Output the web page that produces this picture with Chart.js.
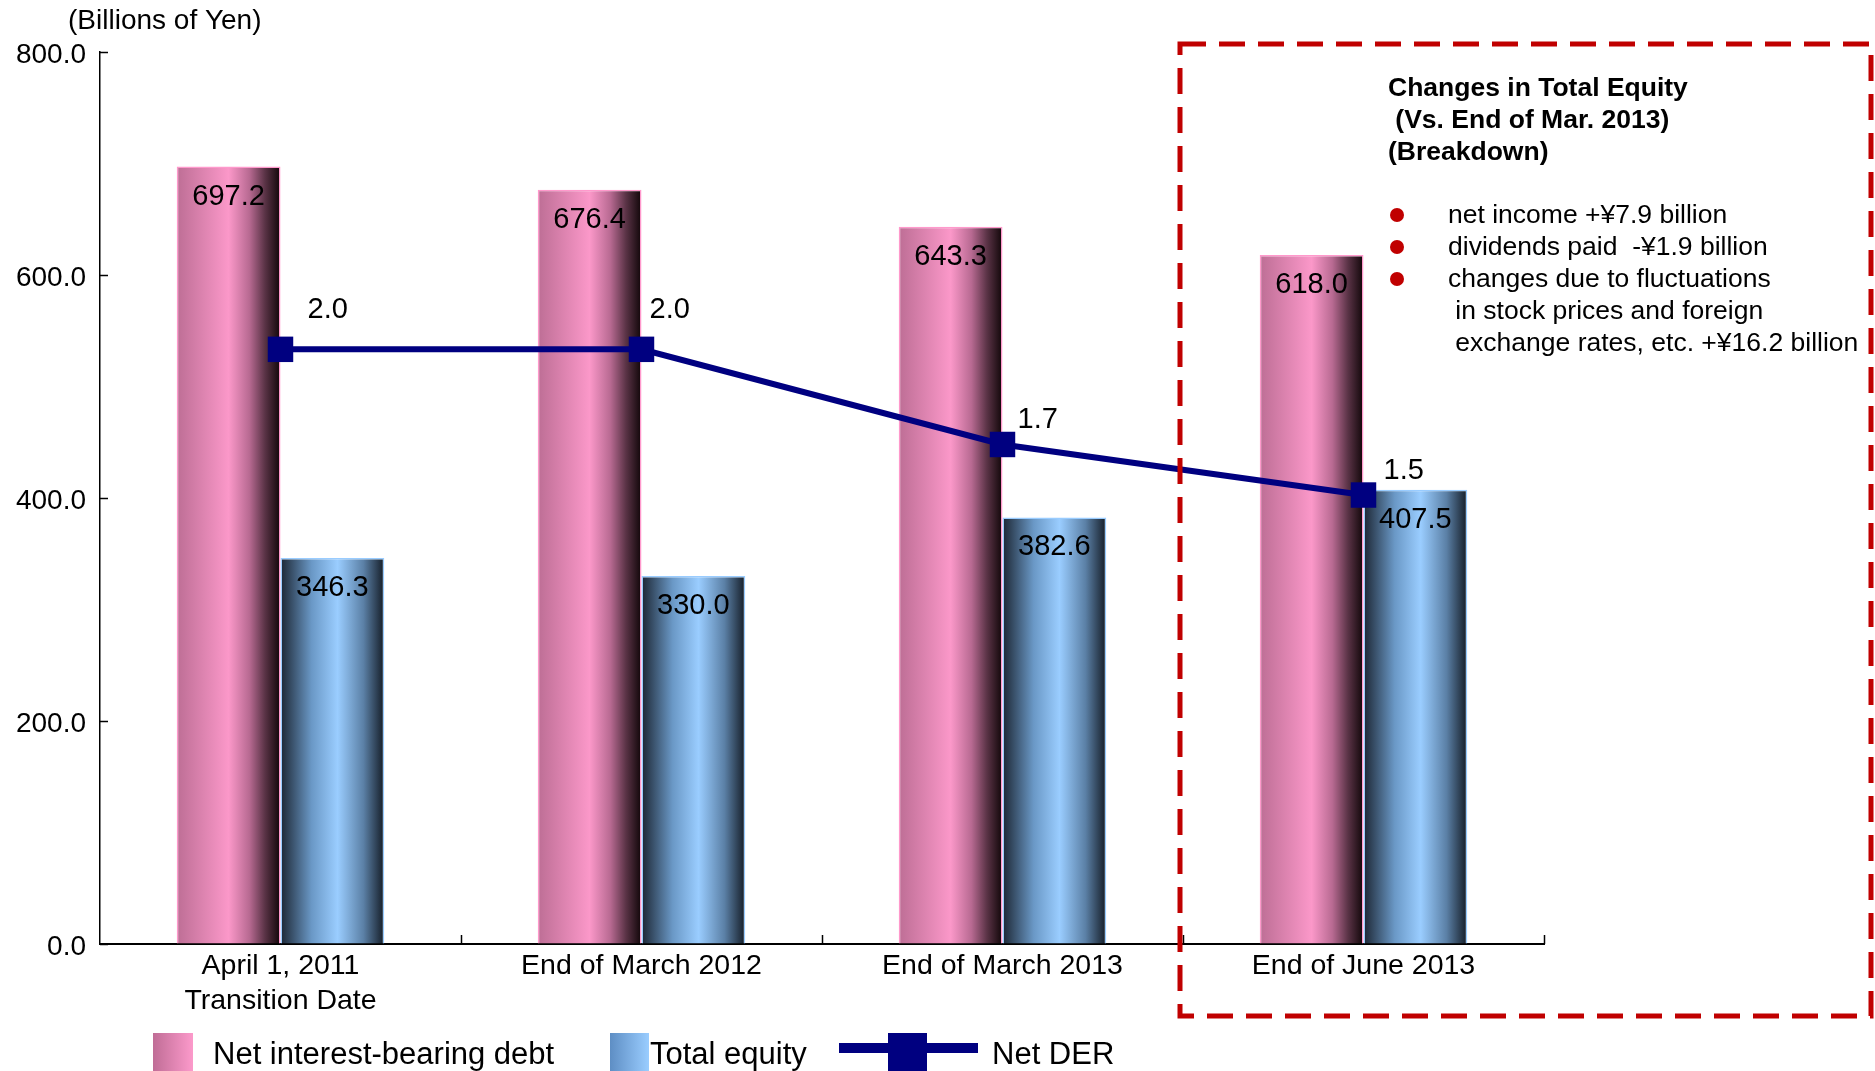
<!DOCTYPE html>
<html>
<head>
<meta charset="utf-8">
<script src="https://cdn.jsdelivr.net/npm/chart.js@4.4.0/dist/chart.umd.min.js"></script>
<style>
html, body { margin: 0; padding: 0; background: #fff; }
#wrap { width: 1875px; height: 1071px; position: relative; }
</style>
</head>
<body>
<div id="wrap"><canvas id="myChart"></canvas></div>
<script>
// values
const categories = [['April 1, 2011', 'Transition Date'], 'End of March 2012', 'End of March 2013', 'End of June 2013'];
const debtValues = [697.2, 676.4, 643.3, 618.0];
const equityValues = [346.3, 330.0, 382.6, 407.5];
const derValues = [2.0, 2.0, 1.68, 1.51];
const yTicks = [0, 200, 400, 600, 800];

const noteTitle = ['Changes in Total Equity', ' (Vs. End of Mar. 2013)', '(Breakdown)'];
const noteItems = [
    ['net income +\u00a57.9 billion'],
    ['dividends paid  -\u00a51.9 billion'],
    ['changes due to fluctuations', ' in stock prices and foreign', ' exchange rates, etc. +\u00a516.2 billion']
];

const FONT = "'Liberation Sans', Arial, sans-serif";
const groupWidth = 0.575;
const pinkStops = [[0, '#bd6e95'], [0.5, '#fb98c9'], [0.7, '#b86a92'], [0.85, '#5a3346'], [1, '#100608']];
const blueStops = [[0, '#1c2633'], [0.3, '#6a98c6'], [0.55, '#9acdff'], [0.8, '#5b80a6'], [1, '#141c26']];
const derLabelShift = [[27, -39], [8, -39], [15, -24], [20, -24]];

function barGradient(ctx, stops, side) {
    const chart = ctx.chart;
    if (!chart.chartArea || ctx.dataIndex === undefined) return stops[2][1];
    const xs = chart.scales.x;
    const center = xs.getPixelForValue(ctx.dataIndex);
    const half = xs.width / categories.length * groupWidth / 2;
    const left = side === 0 ? center - half : center;
    const g = chart.ctx.createLinearGradient(left, 0, left + half, 0);
    stops.forEach((s) => g.addColorStop(s[0], s[1]));
    return g;
}

const valueLabels = {
    id: 'valueLabels',
    afterDatasetsDraw(chart) {
        const c = chart.ctx;
        c.save();
        c.font = '29px ' + FONT;
        c.fillStyle = '#000';
        c.textAlign = 'center';
        c.textBaseline = 'middle';
        [0, 1].forEach((di) => {
            chart.getDatasetMeta(di).data.forEach((bar, i) => {
                const v = chart.data.datasets[di].data[i];
                c.fillText(v.toFixed(1), bar.x, bar.y + 30);
            });
        });
        c.textAlign = 'left';
        chart.getDatasetMeta(2).data.forEach((pt, i) => {
            c.fillText(derValues[i].toFixed(1), pt.x + derLabelShift[i][0], pt.y + derLabelShift[i][1]);
        });
        c.restore();
    }
};

const extras = {
    id: 'extras',
    afterDraw(chart) {
        const c = chart.ctx;
        const xs = chart.scales.x;
        const ys = chart.scales.y;
        c.save();

        // inward tick marks
        c.strokeStyle = '#000';
        c.lineWidth = 1.5;
        yTicks.forEach((v) => {
            const py = Math.round(ys.getPixelForValue(v)) + 0.5;
            c.beginPath();
            c.moveTo(ys.right, py);
            c.lineTo(ys.right + 8, py);
            c.stroke();
        });
        const step = xs.width / categories.length;
        for (let k = 1; k <= categories.length; k++) {
            const px = Math.round(xs.left + k * step) + 0.5;
            c.beginPath();
            c.moveTo(px, xs.top);
            c.lineTo(px, xs.top - 9);
            c.stroke();
        }

        // unit label
        c.fillStyle = '#000';
        c.font = '28px ' + FONT;
        c.textAlign = 'left';
        c.textBaseline = 'middle';
        c.fillText('(Billions of Yen)', 68, 21);

        // dashed breakdown box
        c.strokeStyle = '#c00000';
        c.lineWidth = 5;
        c.setLineDash([26, 13]);
        c.strokeRect(1180, 44, 691, 972);
        c.setLineDash([]);

        c.fillStyle = '#000';
        c.font = 'bold 26.5px ' + FONT;
        noteTitle.forEach((t, i) => c.fillText(t, 1388, 89 + i * 32));

        c.font = '26.5px ' + FONT;
        let row = 0;
        noteItems.forEach((item) => {
            const y0 = 216 + row * 32;
            c.fillStyle = '#c00000';
            c.beginPath();
            c.arc(1397, y0 - 1, 7, 0, Math.PI * 2);
            c.fill();
            c.fillStyle = '#000';
            item.forEach((t) => {
                c.fillText(t, 1448, 216 + row * 32);
                row++;
            });
        });

        // legend
        const ly = 1055;
        let g = c.createLinearGradient(153, 0, 193, 0);
        g.addColorStop(0, '#c06d96');
        g.addColorStop(1, '#fc9acb');
        c.fillStyle = g;
        c.fillRect(153, 1033, 40, 40);
        c.fillStyle = '#000';
        c.font = '31px ' + FONT;
        c.fillText('Net interest-bearing debt', 213, ly);

        g = c.createLinearGradient(610, 0, 649, 0);
        g.addColorStop(0, '#5e8ec4');
        g.addColorStop(1, '#9acdff');
        c.fillStyle = g;
        c.fillRect(610, 1033, 39, 40);
        c.fillStyle = '#000';
        c.fillText('Total equity', 650, ly);

        c.fillStyle = '#000080';
        c.fillRect(839, 1043, 139, 10);
        c.fillRect(888, 1033, 39, 40);
        c.fillStyle = '#000';
        c.fillText('Net DER', 992, ly);

        c.restore();
    }
};

const ctx = document.getElementById('myChart');
new Chart(ctx, {
    data: {
        labels: categories,
        datasets: [
            {
                type: 'bar',
                label: 'Net interest-bearing debt',
                data: debtValues,
                backgroundColor: (c) => barGradient(c, pinkStops, 0),
                borderColor: '#ff99cc',
                borderWidth: 1.5,
                categoryPercentage: groupWidth,
                barPercentage: 1,
                order: 1
            },
            {
                type: 'bar',
                label: 'Total equity',
                data: equityValues,
                backgroundColor: (c) => barGradient(c, blueStops, 1),
                borderColor: '#99ccff',
                borderWidth: 1.5,
                categoryPercentage: groupWidth,
                barPercentage: 1,
                order: 1
            },
            {
                type: 'line',
                label: 'Net DER',
                data: derValues,
                yAxisID: 'y2',
                borderColor: '#000080',
                borderWidth: 6,
                pointStyle: 'rect',
                pointRadius: 18,
                pointBackgroundColor: '#000080',
                pointBorderWidth: 0,
                order: 0
            }
        ]
    },
    options: {
        responsive: true,
        maintainAspectRatio: false,
        animation: false,
        devicePixelRatio: 1,
        layout: { padding: { top: 52, right: 331, bottom: 0, left: 0 } },
        plugins: {
            legend: { display: false },
            tooltip: { enabled: false }
        },
        scales: {
            x: {
                grid: { drawOnChartArea: false, drawTicks: false },
                border: { color: '#000', width: 2 },
                ticks: {
                    color: '#000',
                    font: { family: FONT, size: 28.5, lineHeight: 1.24 },
                    padding: 4,
                    maxRotation: 0,
                    autoSkip: false
                },
                afterFit: (s) => { s.height = 127; }
            },
            y: {
                min: 0,
                max: 800,
                grid: { drawOnChartArea: false, drawTicks: false },
                border: { color: '#000', width: 1.5 },
                ticks: {
                    stepSize: 200,
                    color: '#000',
                    font: { family: FONT, size: 28 },
                    padding: 14,
                    labelOffset: 3,
                    callback: (v) => v.toFixed(1)
                },
                afterFit: (s) => { s.width = 100; }
            },
            y2: {
                display: false,
                position: 'right',
                min: 0,
                max: 3
            }
        }
    },
    plugins: [valueLabels, extras]
});
</script>
</body>
</html>
